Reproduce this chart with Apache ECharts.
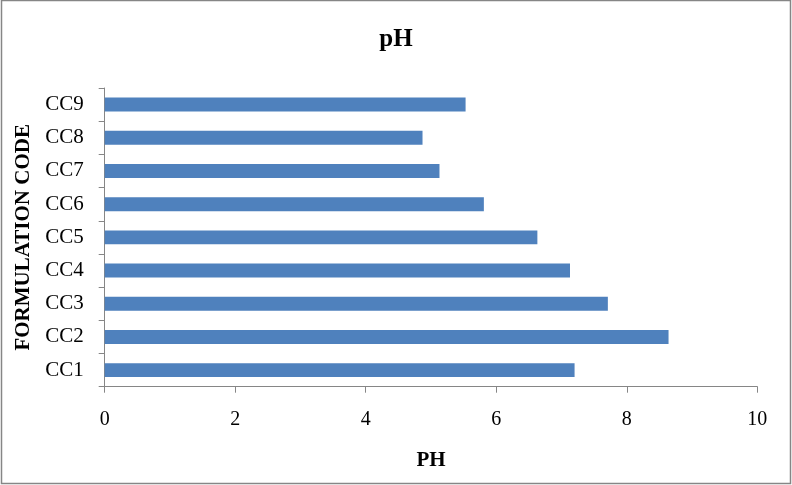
<!DOCTYPE html>
<html><head><meta charset="utf-8">
<script src="https://cdn.jsdelivr.net/npm/echarts@6/dist/echarts.min.js"></script>
<style>html,body{margin:0;padding:0;background:#fff}#c{width:792px;height:485px}</style>
</head><body><div id="c"></div>
<script>
var categories = ['CC1','CC2','CC3','CC4','CC5','CC6','CC7','CC8','CC9'];
var phValues = [7.20, 8.64, 7.71, 7.13, 6.63, 5.81, 5.13, 4.87, 5.53];
var xTicks = {min: 0, max: 10, interval: 2};
var F = '"Liberation Serif","Times New Roman",serif';
var chart = echarts.init(document.getElementById('c'), null, {renderer:'canvas'});
chart.setOption({
  animation: false,
  backgroundColor: '#fff',
  graphic: [{type:'rect', shape:{x:1.5,y:0.5,width:789,height:483}, style:{fill:'none', stroke:'#868686', lineWidth:1.5}}],
  title: {text:'pH', left:'center', top:22, textStyle:{fontFamily:F, fontSize:25, fontWeight:'bold', color:'#000'}},
  grid: {left:104.7, right:34.7, top:88, bottom:98.3},
  xAxis: {
    type:'value', min:xTicks.min, max:xTicks.max, interval:xTicks.interval,
    name:'PH', nameLocation:'middle', nameGap:63,
    nameTextStyle:{fontFamily:F, fontSize:21, fontWeight:'bold', color:'#000'},
    axisLine:{show:true, lineStyle:{color:'#868686', width:1}},
    axisTick:{show:true, length:6, lineStyle:{color:'#868686'}},
    axisLabel:{fontFamily:F, fontSize:20, color:'#000', margin:23},
    splitLine:{show:false}
  },
  yAxis: {
    type:'category', data:categories,
    name:'FORMULATION CODE', nameLocation:'middle', nameGap:67, nameRotate:90,
    nameTextStyle:{fontFamily:F, fontSize:21, fontWeight:'bold', color:'#000'},
    axisLine:{show:true, lineStyle:{color:'#868686', width:1}},
    axisTick:{show:true, length:6, lineStyle:{color:'#868686'}},
    axisLabel:{fontFamily:F, fontSize:21, color:'#000', margin:21}
  },
  series: [{type:'bar', data:phValues, barCategoryGap:'58%', itemStyle:{color:'#4F81BD'}}]
});
</script></body></html>
